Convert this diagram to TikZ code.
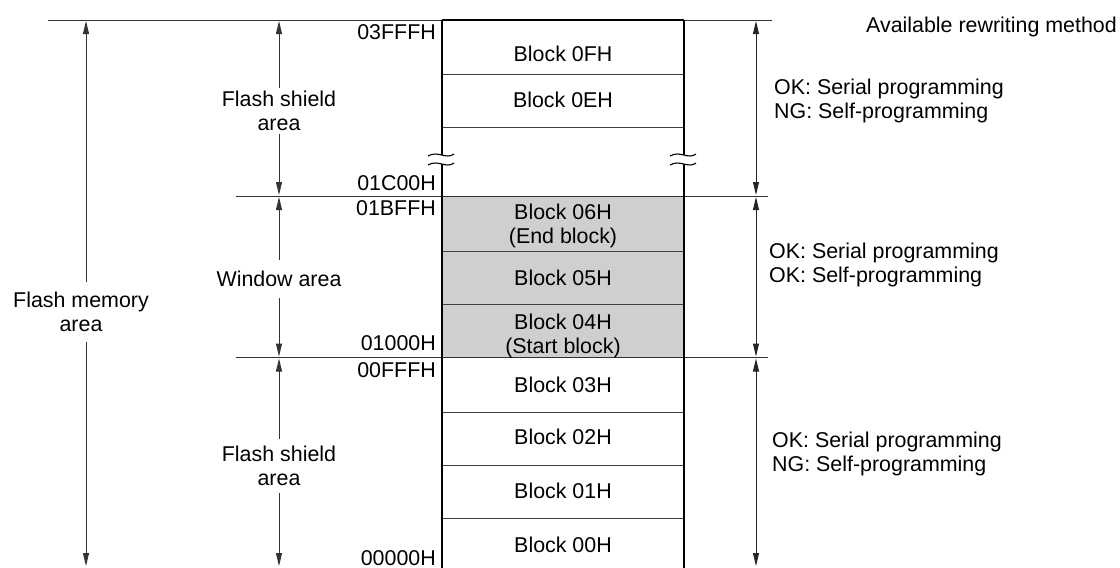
\documentclass[tikz,border=0pt]{standalone}
\usepackage{fontspec}
\setmainfont{Liberation Sans}
\usetikzlibrary{arrows.meta}
\begin{document}
\begin{tikzpicture}[x=1pt,y=-1pt,
  txt/.style={font=\fontsize{21.4}{23.5}\selectfont, inner sep=0pt, align=center},
  addr/.style={txt, anchor=east},
  note/.style={txt, anchor=west, align=left},
  thinline/.style={line width=1pt, draw=black!80},
  divline/.style={line width=0.9pt, draw=black!75},
  tipstyle/.tip={Triangle[length=13pt,width=6pt]},
  dim/.style={line width=1pt, draw=black!80, -tipstyle},
  dimboth/.style={line width=1pt, draw=black!85, tipstyle-tipstyle},
  colline/.style={line width=2.2pt, draw=black},
  shadebox/.style={fill=black!19},
  breakmark/.style={line width=1.1pt, draw=black},
]
\useasboundingbox (0,0) rectangle (1120,568);

% ---- shaded window blocks
\fill[shadebox] (442,196) rectangle (684,357);

% ---- block dividers
\foreach \yy in {74,127,251,304,412,465,518}
  \draw[divline] (442,\yy) -- (684,\yy);

% ---- long horizontal lines
\coordinate (topL) at (48,20);
\coordinate (topR) at (772,20);
\coordinate (midL) at (236,196);
\coordinate (midR) at (768,196);
\coordinate (lowL) at (236,357.5);
\coordinate (lowR) at (768,357.5);
\draw[thinline] (topL) -- (topR);
\draw[thinline] (midL) -- (midR);
\draw[thinline] (lowL) -- (lowR);

% ---- memory column
\coordinate (cTL) at (442,20);
\coordinate (cBL) at (442,568);
\coordinate (cTR) at (684,20);
\coordinate (cBR) at (684,568);
\draw[colline] (cTL) -- (cBL);
\draw[colline] (cTR) -- (cBR);
\draw[line width=2pt] (cTL) -- (cTR);

% ---- break marks
\foreach \xx in {442,684}{
  \fill[white] (\xx-14,156) .. controls (\xx-4,150) and (\xx+4,160) .. (\xx+12,154)
      -- (\xx+12,163) .. controls (\xx+4,169) and (\xx-4,159) .. (\xx-14,165) -- cycle;
  \draw[breakmark] (\xx-14,156) .. controls (\xx-4,150) and (\xx+4,160) .. (\xx+12,154);
  \draw[breakmark] (\xx-14,165) .. controls (\xx-4,159) and (\xx+4,169) .. (\xx+12,163);
}

% ---- block labels
\node[txt] (b0F) at (563,54) {Block 0FH};
\node[txt] (b0E) at (563,100) {Block 0EH};
\node[txt] (b06) at (563,226) {Block 06H\\(End block)};
\node[txt] (b05) at (563,278) {Block 05H};
\node[txt] (b04) at (563,336) {Block 04H\\(Start block)};
\node[txt] (b03) at (563,385) {Block 03H};
\node[txt] (b02) at (563,437) {Block 02H};
\node[txt] (b01) at (563,491) {Block 01H};
\node[txt] (b00) at (563,545) {Block 00H};

% ---- address labels
\node[addr] (a1) at (436,32) {03FFFH};
\node[addr] (a2) at (436,183) {01C00H};
\node[addr] (a3) at (436,208) {01BFFH};
\node[addr] (a4) at (436,343) {01000H};
\node[addr] (a5) at (436,370) {00FFFH};
\node[addr] (a6) at (436,558) {00000H};

% ---- left dimension: flash memory area
\node[txt, inner ysep=10pt] (fma) at (81,312) {Flash memory\\area};
\coordinate (fmaT) at (86,21);
\coordinate (fmaB) at (86,566);
\draw[dim] (fma.north -| fmaT) -- (fmaT);
\draw[dim] (fma.south -| fmaB) -- (fmaB);

% ---- middle dimensions
\node[txt, inner ysep=3pt] (fs1) at (279,111) {Flash shield\\area};
\coordinate (fs1T) at (279,21);
\coordinate (fs1B) at (279,195);
\draw[dim] (fs1.north -| fs1T) -- (fs1T);
\draw[dim] (fs1.south -| fs1B) -- (fs1B);

\node[txt, inner ysep=11pt] (win) at (279,279) {Window area};
\coordinate (winT) at (279,197);
\coordinate (winB) at (279,356.5);
\draw[dim] (win.north -| winT) -- (winT);
\draw[dim] (win.south -| winB) -- (winB);

\node[txt, inner ysep=7pt] (fs2) at (279,466) {Flash shield\\area};
\coordinate (fs2T) at (279,358.5);
\coordinate (fs2B) at (279,566);
\draw[dim] (fs2.north -| fs2T) -- (fs2T);
\draw[dim] (fs2.south -| fs2B) -- (fs2B);

% ---- right dimensions
\coordinate (r1T) at (756,21);
\coordinate (r1B) at (756,195);
\coordinate (r2T) at (756,197);
\coordinate (r2B) at (756,356.5);
\coordinate (r3T) at (756,358.5);
\coordinate (r3B) at (756,566);
\draw[dimboth] (r1T) -- (r1B);
\draw[dimboth] (r2T) -- (r2B);
\draw[dimboth] (r3T) -- (r3B);

% ---- right notes
\node[note] (hdr) at (866,27) {Available rewriting method};
\node[note] (n1) at (774,101) {OK: Serial programming\\NG: Self-programming};
\node[note] (n2) at (769,265) {OK: Serial programming\\OK: Self-programming};
\node[note] (n3) at (772,454) {OK: Serial programming\\NG: Self-programming};
\end{tikzpicture}
\end{document}
